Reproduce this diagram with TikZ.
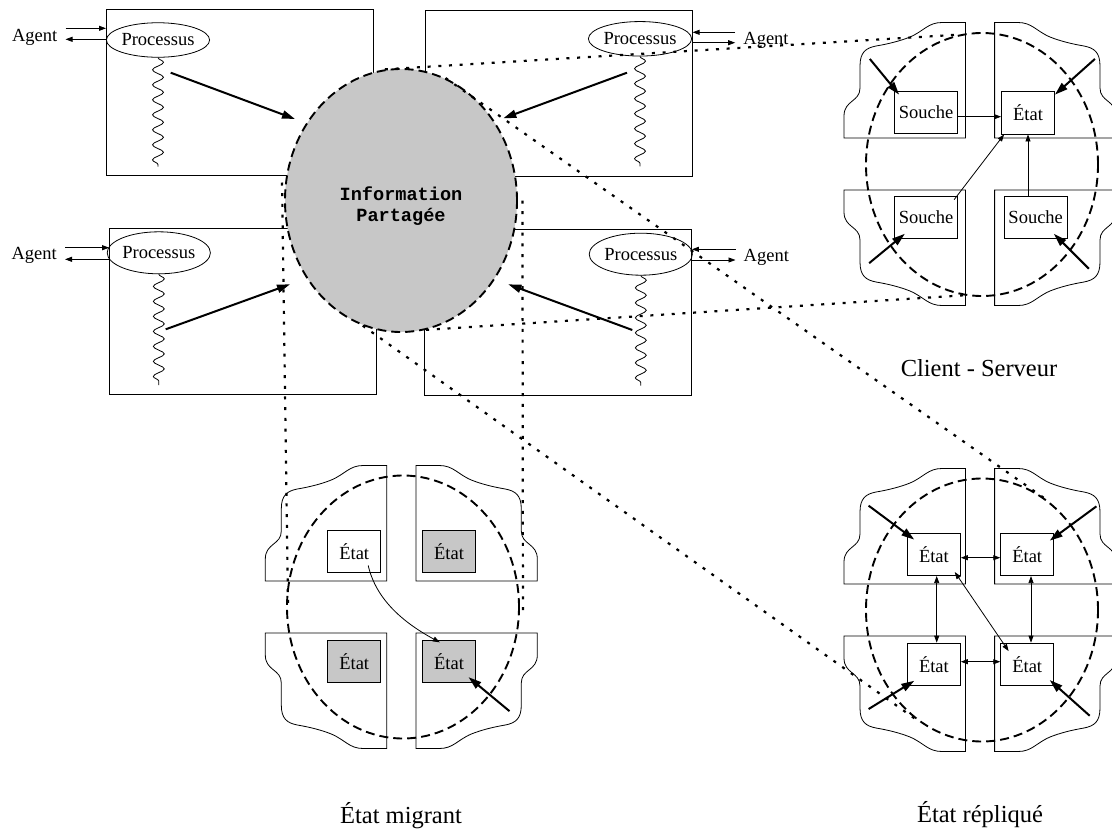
\documentclass[tikz,border=0pt]{standalone}
\usepackage{fontspec}
\setmainfont{Liberation Serif}
\newfontfamily\infofont{Liberation Mono}
\usetikzlibrary{arrows.meta,calc,shapes.geometric,decorations.pathmorphing}

\tikzset{
  small/.style={font=\fontsize{18.5}{21}\selectfont, inner sep=0pt},
  host/.style={draw, line width=0.8pt, minimum width=267pt, minimum height=166pt, inner sep=0pt},
  proc/.style={small, ellipse, draw, line width=0.8pt, minimum width=95.5pt},
  agent/.style={small, inner xsep=8pt},
  link/.style={line width=0.8pt, -{Triangle[length=7pt,width=5pt]}},
  dlink/.style={line width=0.8pt, {Triangle[length=7pt,width=5pt]}-{Triangle[length=7pt,width=5pt]}},
  wave/.style={line width=0.8pt, decorate, decoration={snake, amplitude=5.5pt, segment length=15pt}},
  push/.style={line width=2pt, -{Triangle[length=13pt,width=8pt]}},
  zone/.style={ellipse, draw, line width=1.9pt, dash pattern=on 9pt off 5pt, minimum width=232pt, minimum height=263pt, inner sep=0pt},
  shared/.style={zone, fill=black!22},
  proj/.style={line width=2.2pt, dash pattern=on 3pt off 7.7pt},
  quarter/.style={line width=0.8pt},
  souche/.style={small, draw, line width=0.8pt, minimum width=63.5pt, minimum height=42.3pt},
  etat/.style={souche, minimum width=53pt},
  moved/.style={etat, fill=black!22},
  title/.style={font=\fontsize{24.5}{28}\selectfont, inner sep=0pt}
}

\begin{document}
\begin{tikzpicture}[x=1pt,y=-1pt]
        \useasboundingbox (0,0) rectangle (1112,831);
        %hosts
        \node[host] (hTL) at (239.9,92.2) {};
        \node[host] (hTR) at (558.7,93.4) {};
        \node[host] (hBL) at (243,310.9) {};
        \node[host] (hBR) at (558,312.2) {};
        \node[proc, minimum height=34.5pt] (pTL) at (158,40) {Processus};
        \node[proc, minimum height=34.5pt] (pTR) at (640,38.8) {Processus};
        \node[proc, minimum height=42pt] (pBL) at (158.8,252.8) {Processus};
        \node[proc, minimum height=42pt] (pBR) at (640.8,254.2) {Processus};
        \node[agent] (aTL) at (34.7,37) {Agent};
        \node[agent] (aTR) at (766,40) {Agent};
        \node[agent] (aBL) at (34.2,255.3) {Agent};
        \node[agent] (aBR) at (766.3,257) {Agent};
        \draw[link] (aTL.east |- 0,28.3) -- (hTL.west |- 0,28.3);
        \draw[link] (hTL.west |- 0,39.3) -- (aTL.east |- 0,39.3);
        \draw[link] (aTR.west |- 0,32.3) -- (hTR.east |- 0,32.3);
        \draw[link] (hTR.east |- 0,42.7) -- (aTR.west |- 0,42.7);
        \draw[link] (aBL.east |- 0,247.7) -- (hBL.west |- 0,247.7);
        \draw[link] (hBL.west |- 0,259.3) -- (aBL.east |- 0,259.3);
        \draw[link] (aBR.west |- 0,249.3) -- (hBR.east |- 0,249.3);
        \draw[link] (hBR.east |- 0,260) -- (aBR.west |- 0,260);
        \draw[wave] (pTL.south) -- ++(0,109);
        \draw[wave] (pTR.south) -- ++(0,110);
        \draw[wave] (pBL.south) -- ++(0,111);
        \draw[wave] (pBR.south) -- ++(0,110);
        \coordinate (sTL) at (170.7,72.7); \coordinate (tTL) at (295,119);
        \coordinate (sTR) at (627,72.7);   \coordinate (tTR) at (503.3,118.3);
        \coordinate (sBL) at (165.7,329.3); \coordinate (tBL) at (290,284.3);
        \coordinate (sBR) at (632.3,330);   \coordinate (tBR) at (508.3,284.3);
        \draw[push] (sTL) -- (tTL);
        \draw[push] (sTR) -- (tTR);
        \draw[push] (sBL) -- (tBL);
        \draw[push] (sBR) -- (tBR);

        %shared information
        \node[shared] (info) at (401,200.5) {};
        \node[font=\infofont\bfseries\fontsize{18.6}{21}\selectfont, align=center, inner sep=0pt] (infotxt) at (401,206) {Information\\Partagée};

        %quarters of the three views
        \foreach \cx/\cy in {980/164, 401.3/607, 980/610}
          \foreach \sx/\sy in {1/1, -1/1, 1/-1, -1/-1}
            \draw[quarter, shift={(\cx,\cy)}, xscale=\sx, yscale=\sy]
              (-14.6,-141.5) -- (-38,-141.5)
              .. controls (-52,-141.5) and (-56,-133) .. (-70,-127)
              .. controls (-80,-123) and (-92,-120) .. (-104,-118)
              .. controls (-114,-116) and (-120,-112) .. (-120,-98)
              -- (-120,-76)
              .. controls (-120,-62) and (-136,-64) .. (-136,-48)
              -- (-136,-26) -- (-14.6,-26) -- cycle;

        %client - serveur
        \node[souche] (s1) at (926,112.2) {Souche};
        \node[etat] (e0) at (1028,112.9) {État};
        \node[souche] (s2) at (926,217.2) {Souche};
        \node[souche] (s3) at (1035.7,217.2) {Souche};
        \draw[link] (s1.east |- 0,116.7) -- (e0.west |- 0,116.7);
        \draw[link] ($(s2.north east)+(-4,4)$) -- ($(e0.south west)+(3,0)$);
        \draw[link] (e0.south |- s3.north) -- (e0.south);
        \draw[push] ($(s1.north west)+(-24,-31.7)$) -- ($(s1.north west)+(5.3,4)$);
        \draw[push] ($(e0.north east)+(40,-32.4)$) -- ($(e0.north east)+(0,3.3)$);
        \draw[push] ($(s2.south west)+(-24.7,24.4)$) -- ($(s2.south west)+(11,-5)$);
        \draw[push] ($(s3.south east)+(21,30)$) -- ($(s3.south east)+(-14,-5)$);
        \node[zone] (zS) at (982,164.5) {};

        %etat migrant
        \node[etat] (m1) at (354.2,551.2) {État};
        \node[moved] (m2) at (449,551.2) {État};
        \node[moved] (m3) at (354.2,661.2) {État};
        \node[moved] (m4) at (449,661.2) {État};
        \draw[link] ($(m1.south)+(14,-7.3)$) .. controls +(8,35) and +(-35,-19) .. ($(m4.north west)+(17.7,2.7)$);
        \draw[push] ($(m4.south east)+(33.6,28.4)$) -- ($(m4.south east)+(-7.4,-5.6)$);
        \node[zone] (zM) at (403,607) {};

        %etat replique
        \node[etat] (r1) at (933.9,554.5) {État};
        \node[etat] (r2) at (1027.2,554.5) {État};
        \node[etat] (r3) at (933.9,664.2) {État};
        \node[etat] (r4) at (1027.2,664.2) {État};
        \draw[dlink] (r1.east |- 0,557.7) -- (r2.west |- 0,557.7);
        \draw[dlink] (r3.east |- 0,661.7) -- (r4.west |- 0,661.7);
        \draw[dlink] (r1.south -| 936.7,0) -- (r3.north -| 936.7,0);
        \draw[dlink] (r2.south -| 1031,0) -- (r4.north -| 1031,0);
        \draw[dlink] ($(r1.south east)+(-6,-4)$) -- ($(r4.north west)+(8.3,8.4)$);
        \draw[push] ($(r1.north west)+(-38.4,-27.3)$) -- ($(r1.north west)+(7.3,6.7)$);
        \draw[push] ($(r2.north east)+(42.3,-26.6)$) -- ($(r2.north east)+(-4.4,7.7)$);
        \draw[push] ($(r3.south west)+(-38.4,23.3)$) -- ($(r3.south west)+(7.3,-5)$);
        \draw[push] ($(r4.south east)+(35.6,30)$) -- ($(r4.south east)+(-4.4,-5.7)$);
        \node[zone] (zR) at (982,610) {};

        %projections
        \draw[proj] (info.97) -- (zS.100);
        \draw[proj] (info.281.6) -- (zS.262);
        \draw[proj] (info.70) -- (zR.58);
        \draw[proj] (info.253) -- (zR.240);
        \draw[proj] ([xshift=-2pt,yshift=18pt]info.west) -- ([xshift=2pt]zM.west);
        \draw[proj] ([xshift=4.5pt]info.east) -- ([xshift=3pt,yshift=-3pt]zM.east);

        %labels
        \node[title, anchor=base] (lCS) at (979,376) {Client - Serveur};
        \node[title, anchor=base] (lEM) at (401,823) {État migrant};
        \node[title, anchor=base] (lER) at (980,822) {État répliqué};
        \end{tikzpicture}
\end{document}
